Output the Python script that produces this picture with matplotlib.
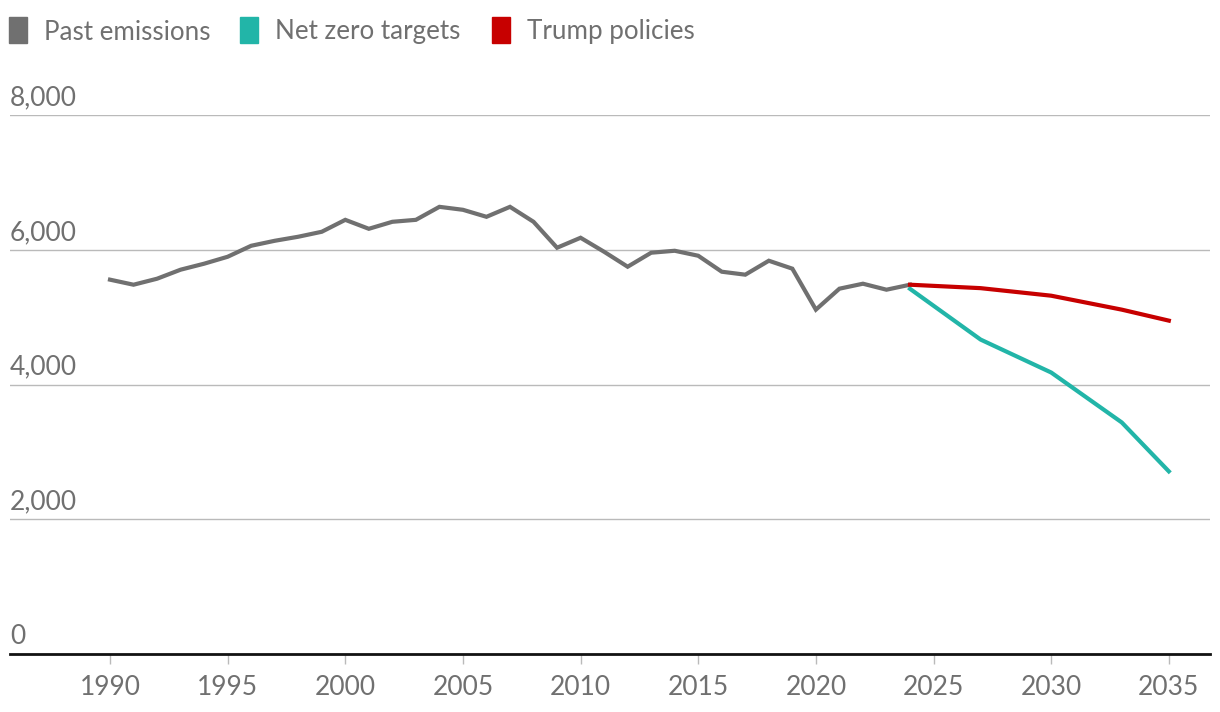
import numpy as np
import matplotlib.pyplot as plt
from matplotlib.patches import Rectangle
from matplotlib.transforms import blended_transform_factory

# US greenhouse gas emissions: history and two projections

past_years = list(range(1990, 2025))
past_values = [5556, 5481, 5570, 5704, 5793, 5896, 6059, 6133, 6193, 6267,
               6444, 6311, 6415, 6444, 6637, 6593, 6489, 6637, 6415, 6030,
               6178, 5970, 5748, 5956, 5985, 5911, 5674, 5630, 5837, 5719,
               5111, 5422, 5496, 5407, 5481]

proj_years = [2024, 2027, 2030, 2033, 2035]
netzero_values = [5420, 4667, 4178, 3437, 2711]
trump_values = [5481, 5430, 5318, 5111, 4948]

y_ticks = [0, 2000, 4000, 6000, 8000]
x_ticks = list(range(1990, 2040, 5))

grey = "#707070"
teal = "#22b5a8"
red = "#c70000"
text_col = "#707070"

plt.rcParams['font.family'] = ['Lato', 'DejaVu Sans']

fig = plt.figure(figsize=(12.2, 7.12), dpi=100)
ax = fig.add_axes([10 / 1220, 1 - 654 / 712, 1200 / 1220, (654 - 115) / 712])

ax.plot(past_years, past_values, color=grey, lw=3, solid_joinstyle='miter', zorder=3)
ax.plot(proj_years, netzero_values, color=teal, lw=3, zorder=3)
ax.plot(proj_years, trump_values, color=red, lw=3, zorder=4)

ax.set_xlim(1985.75, 2036.75)
ax.set_ylim(0, 8000)

# horizontal gridlines with labels sitting above them
ax.set_yticks([])
trans = blended_transform_factory(ax.transAxes, ax.transData)
for v in y_ticks:
    if v > 0:
        ax.axhline(v, color="#bababa", lw=1, zorder=1)
    ax.annotate(f"{v:,}", xy=(0, v), xycoords=trans, xytext=(0, 3.5),
                textcoords="offset points", ha="left", va="bottom",
                fontsize=19, color=text_col)

ax.set_xticks(x_ticks)
ax.set_xticklabels([str(t) for t in x_ticks], fontsize=19, color=text_col)
ax.tick_params(axis='x', length=7, width=1, color="#bababa", pad=8)

for s in ["top", "right", "left"]:
    ax.spines[s].set_visible(False)
ax.spines["bottom"].set_color("#121212")
ax.spines["bottom"].set_linewidth(2)

# legend drawn by hand along the top
legend = [("Past emissions", grey, 9), ("Net zero targets", teal, 240),
          ("Trump policies", red, 492)]
for label, col, x0 in legend:
    fig.patches.append(Rectangle((x0 / 1220, 1 - 43 / 712), 18 / 1220, 26 / 712,
                                 transform=fig.transFigure, color=col))
    fig.text((x0 + 35) / 1220, 1 - 32 / 712, label, fontsize=18.7,
             color=text_col, va="center", ha="left")

fig.savefig("out.png", dpi=100)
